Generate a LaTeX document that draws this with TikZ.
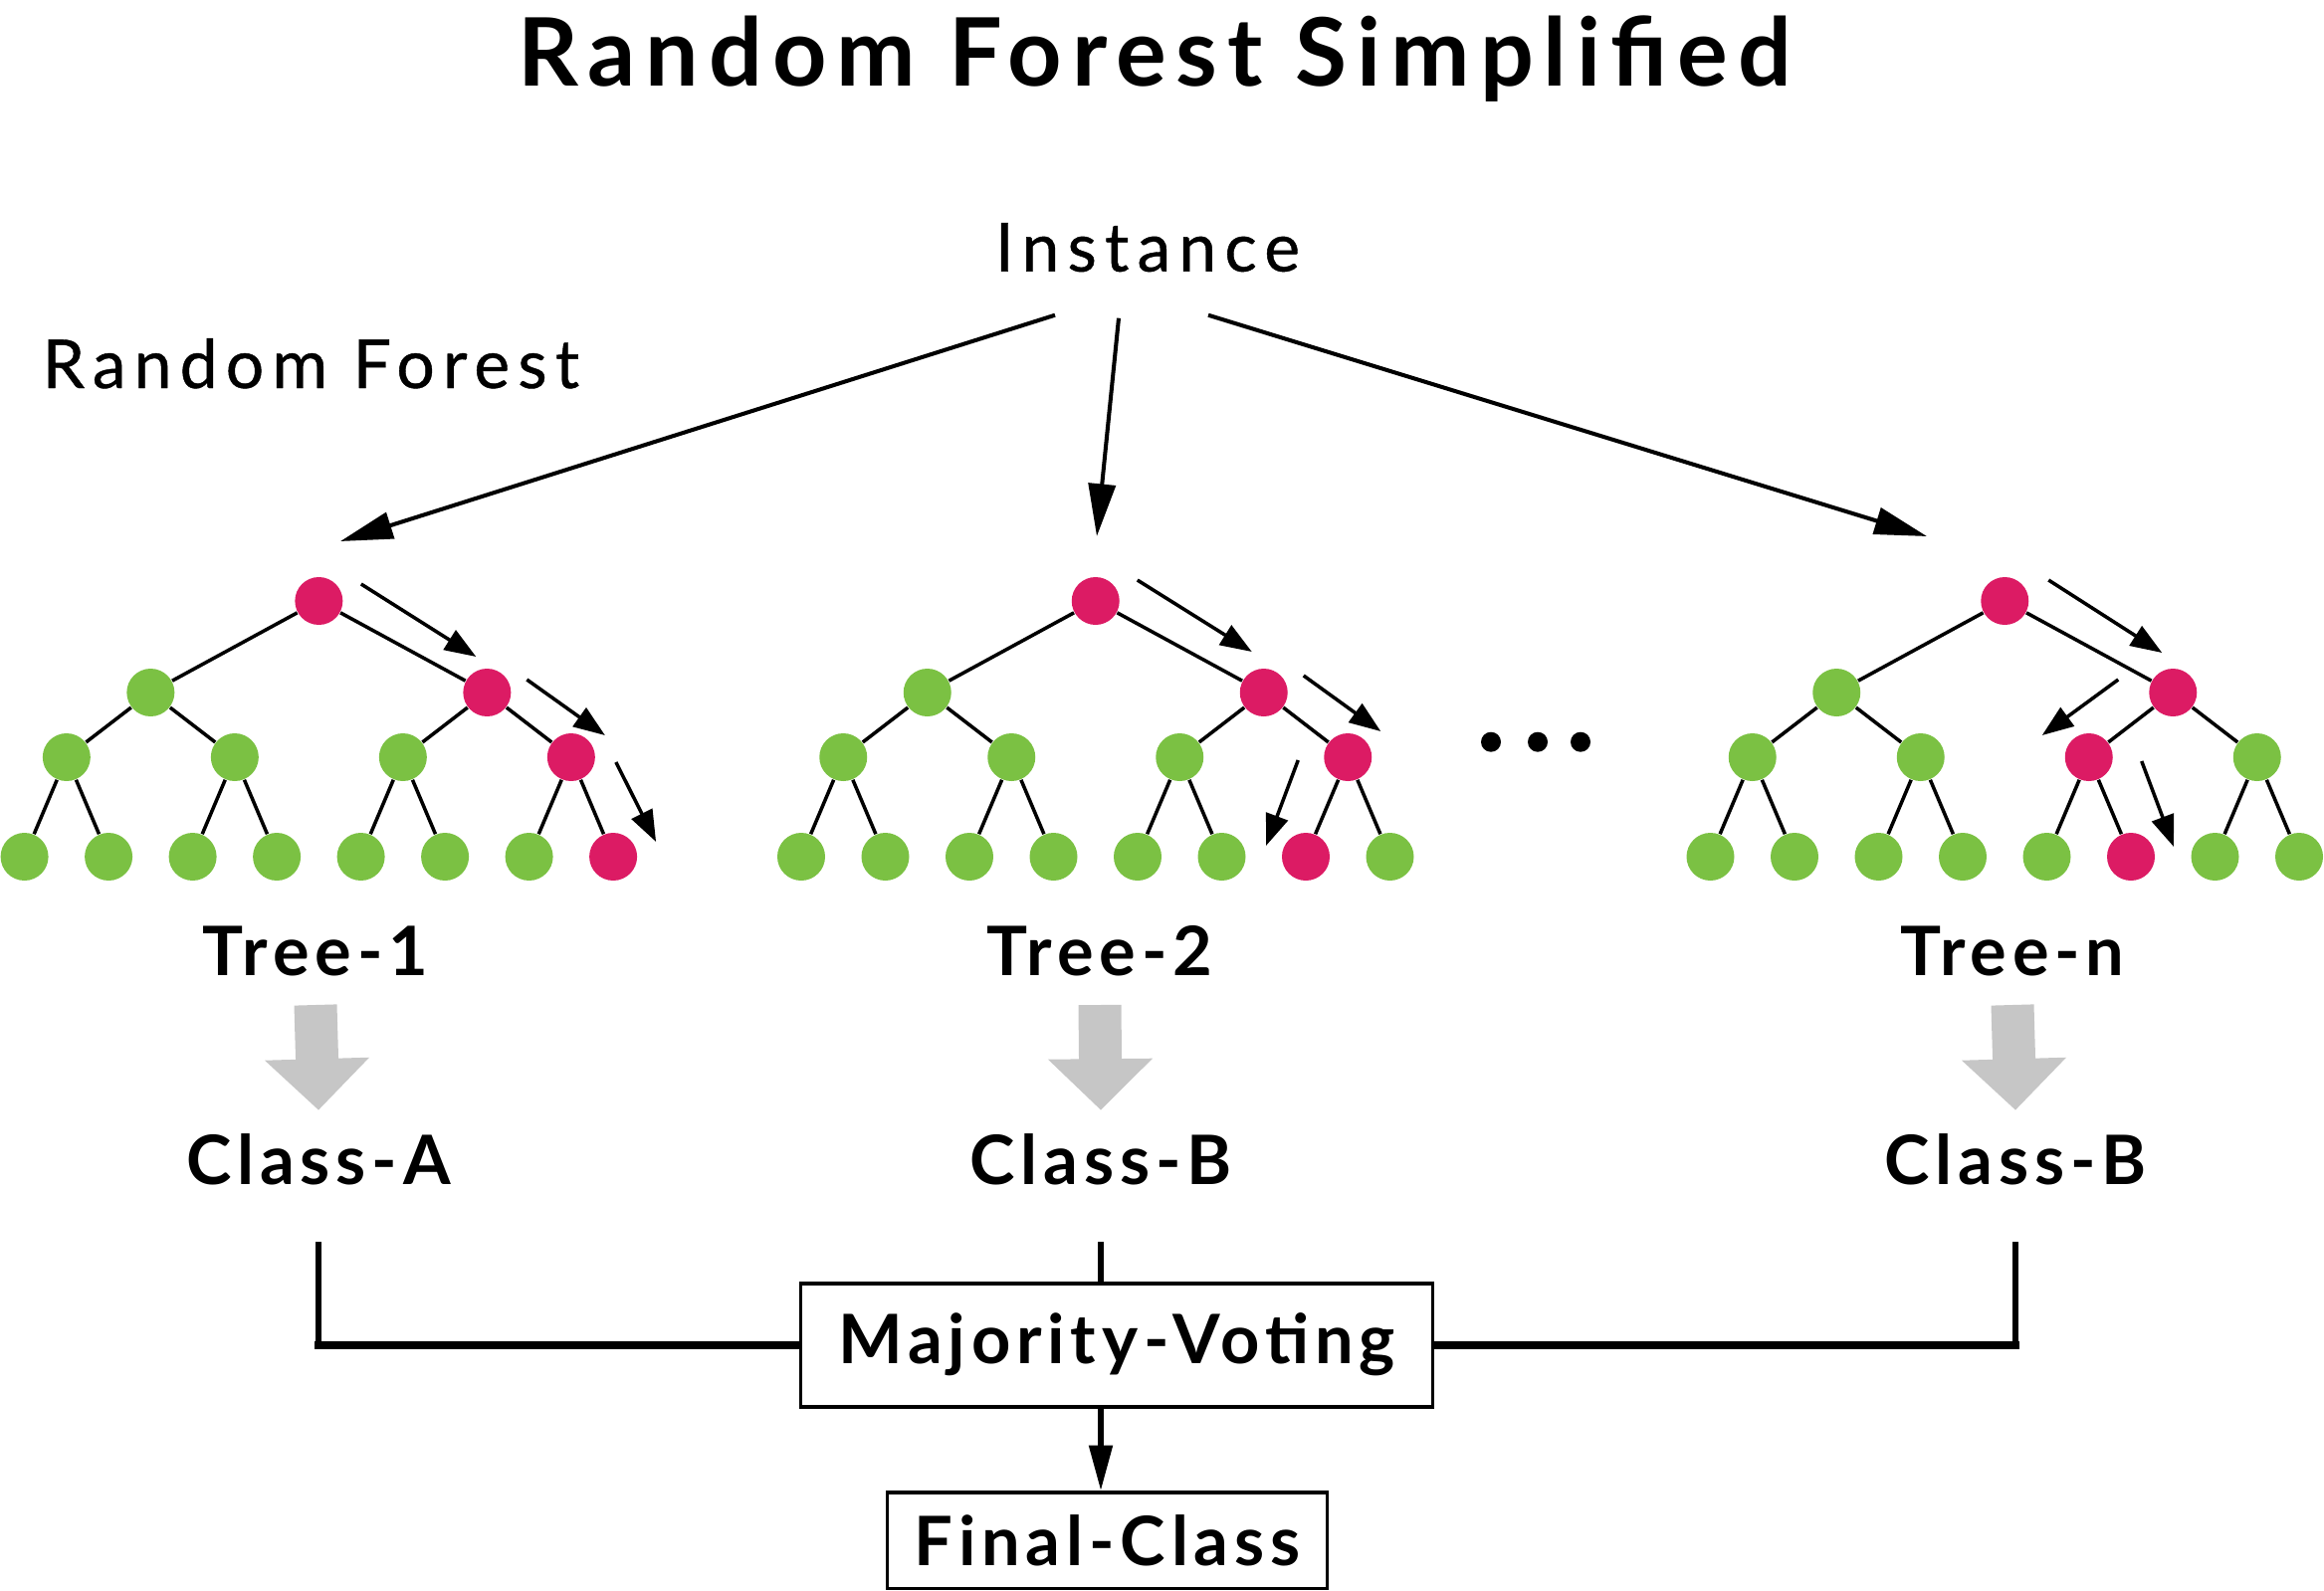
\documentclass[tikz,border=0pt]{standalone}
\usepackage{fontspec}
\setmainfont{Lato}[LetterSpace=8.5]
\newfontfamily\headfont{Lato}[LetterSpace=10.5]
\newfontfamily\plainfont{Lato}[LetterSpace=12,FakeBold=0.6]
\usetikzlibrary{arrows.meta}

\definecolor{nodered}{RGB}{220,27,100}
\definecolor{nodegreen}{RGB}{123,193,67}
\definecolor{blockgray}{RGB}{198,198,198}

\tikzstyle{greennode}=[circle,fill=nodegreen,inner sep=0pt,minimum size=0.48cm]
\tikzstyle{rednode}=[greennode,fill=nodered]
\tikzstyle{branch}=[line width=1pt]
\tikzstyle{walk}=[line width=1pt,-{Triangle[length=9pt,width=6.5pt]}]
\tikzstyle{split}=[line width=1.15pt,-{Triangle[length=15pt,width=7.7pt]}]
\tikzstyle{blockarrow}=[draw=blockgray,line width=0.43cm,-{Triangle[length=0.515cm,width=1.02cm]}]
\tikzstyle{treelabel}=[font=\fontsize{19.5}{22}\selectfont\bfseries,anchor=base,inner sep=0pt]
\tikzstyle{vline}=[line width=1.6pt]
\tikzstyle{hline}=[line width=2.1pt,line cap=rect]
\tikzstyle{votebox}=[draw,line width=0.95pt,inner sep=0pt,font=\fontsize{19.5}{22}\selectfont\bfseries]

\newcommand{\leafgap}{0.845}
% #1 name, #2 x of first leaf, #3-#5 red node on levels 1-3
\newcommand{\dectree}[5]{%
  \node[rednode] (#1-0-1) at ({#2+3.5*\leafgap},-6.04) {};
  \foreach \i in {1,2}{%
    \ifnum\i=#3 \def\ns{rednode}\else\def\ns{greennode}\fi
    \node[\ns] (#1-1-\i) at ({#2+(4*\i-2.5)*\leafgap},-6.96) {};
    \draw[branch] (#1-0-1) -- (#1-1-\i);
  }
  \foreach \i in {1,...,4}{%
    \ifnum\i=#4 \def\ns{rednode}\else\def\ns{greennode}\fi
    \pgfmathtruncatemacro\parentidx{ceil(\i/2)}
    \node[\ns] (#1-2-\i) at ({#2+(2*\i-1.5)*\leafgap},-7.61) {};
    \draw[branch] (#1-1-\parentidx) -- (#1-2-\i);
  }
  \foreach \i in {1,...,8}{%
    \ifnum\i=#5 \def\ns{rednode}\else\def\ns{greennode}\fi
    \pgfmathtruncatemacro\parentidx{ceil(\i/2)}
    \node[\ns] (#1-3-\i) at ({#2+(\i-1)*\leafgap},-8.61) {};
    \draw[branch] (#1-2-\parentidx) -- (#1-3-\i);
  }
}

\begin{document}
\begin{tikzpicture}
\useasboundingbox (0,0) rectangle (23.35,-15.99);

%titles
\node[anchor=base,inner sep=0pt,font=\fontsize{27}{30}\headfont\bfseries] (title) at (11.60,-0.86) {Random Forest Simplified};
\node[anchor=base,inner sep=0pt,font=\fontsize{19.3}{22}\plainfont] (inst) at (11.53,-2.727) {Instance};
\node[anchor=base west,inner sep=0pt,font=\fontsize{19.3}{22}\plainfont] (forest) at (0.42,-3.90) {Random Forest};

%trees
\dectree{t1}{0.246}{2}{4}{8}
\dectree{t2}{8.05}{2}{4}{7}
\dectree{t3}{17.185}{2}{3}{6}
\fill (14.98,-7.457) circle (0.10) (15.45,-7.457) circle (0.10) (15.88,-7.457) circle (0.10);

%instance to trees
\coordinate (in1) at (3.42,-5.44);
\coordinate (in2) at (11.02,-5.39);
\coordinate (in3) at (19.36,-5.39);
\draw[split] ([shift={(-0.93,-0.44)}]inst.base) -- (in1);
\draw[split] ([shift={(-0.29,-0.47)}]inst.base) -- (in2);
\draw[split] ([shift={(0.61,-0.44)}]inst.base) -- (in3);

%decision paths
\draw[walk] ([shift={(0.425,0.17)}]t1-0-1.center) -- ([shift={(-0.11,0.36)}]t1-1-2.center);
\draw[walk] ([shift={(0.40,0.13)}]t1-1-2.center) -- ([shift={(0.34,0.22)}]t1-2-4.center);
\draw[walk] ([shift={(0.45,-0.05)}]t1-2-4.center) -- ([shift={(0.43,0.15)}]t1-3-8.center);
\draw[walk] ([shift={(0.42,0.21)}]t2-0-1.center) -- ([shift={(-0.12,0.41)}]t2-1-2.center);
\draw[walk] ([shift={(0.40,0.17)}]t2-1-2.center) -- ([shift={(0.33,0.26)}]t2-2-4.center);
\draw[walk] ([shift={(-0.50,-0.03)}]t2-2-4.center) -- ([shift={(-0.40,0.11)}]t2-3-7.center);
\draw[walk] ([shift={(0.44,0.21)}]t3-0-1.center) -- ([shift={(-0.11,0.40)}]t3-1-2.center);
\draw[walk] ([shift={(-0.55,0.13)}]t3-1-2.center) -- ([shift={(-0.47,0.22)}]t3-2-3.center);
\draw[walk] ([shift={(0.53,-0.04)}]t3-2-3.center) -- ([shift={(0.43,0.10)}]t3-3-6.center);

%outputs
\node[treelabel] (tr1) at (3.17,-9.80) {Tree-1};
\node[treelabel] (tr2) at (11.05,-9.80) {Tree-2};
\node[treelabel] (tr3) at (20.22,-9.80) {Tree-n};
\node[treelabel] (cl1) at (3.20,-11.90) {Class-A};
\node[treelabel] (cl2) at (11.06,-11.90) {Class-B};
\node[treelabel] (cl3) at (20.25,-11.90) {Class-B};
\draw[blockarrow] ([yshift=-0.30cm]tr1.base) -- ([yshift=0.743cm]cl1.base);
\draw[blockarrow] ([yshift=-0.30cm]tr2.base) -- ([yshift=0.743cm]cl2.base);
\draw[blockarrow] ([yshift=-0.30cm]tr3.base) -- ([yshift=0.743cm]cl3.base);

%voting
\node[votebox,minimum width=6.355cm,minimum height=1.24cm,text height=0.5cm,text depth=0.14cm] (vote) at (11.22,-13.52) {Majority-Voting};
\node[votebox,minimum width=4.42cm,minimum height=0.967cm,text height=0.494cm,text depth=0cm] (final) at (11.126,-15.483) {Final-Class};
\draw[vline] ([yshift=-0.58cm]cl1.base) -- (cl1.base |- vote.west);
\draw[hline] (cl1.base |- vote.west) -- (vote.west);
\draw[vline] ([yshift=-0.58cm]cl3.base) -- (cl3.base |- vote.east);
\draw[hline] (cl3.base |- vote.east) -- (vote.east);
\draw[vline] ([yshift=-0.58cm]cl2.base) -- (cl2.base |- vote.north);
\draw[vline,-{Triangle[length=13pt,width=6.5pt]}] (cl2.base |- vote.south) -- (cl2.base |- final.north);

\end{tikzpicture}
\end{document}
